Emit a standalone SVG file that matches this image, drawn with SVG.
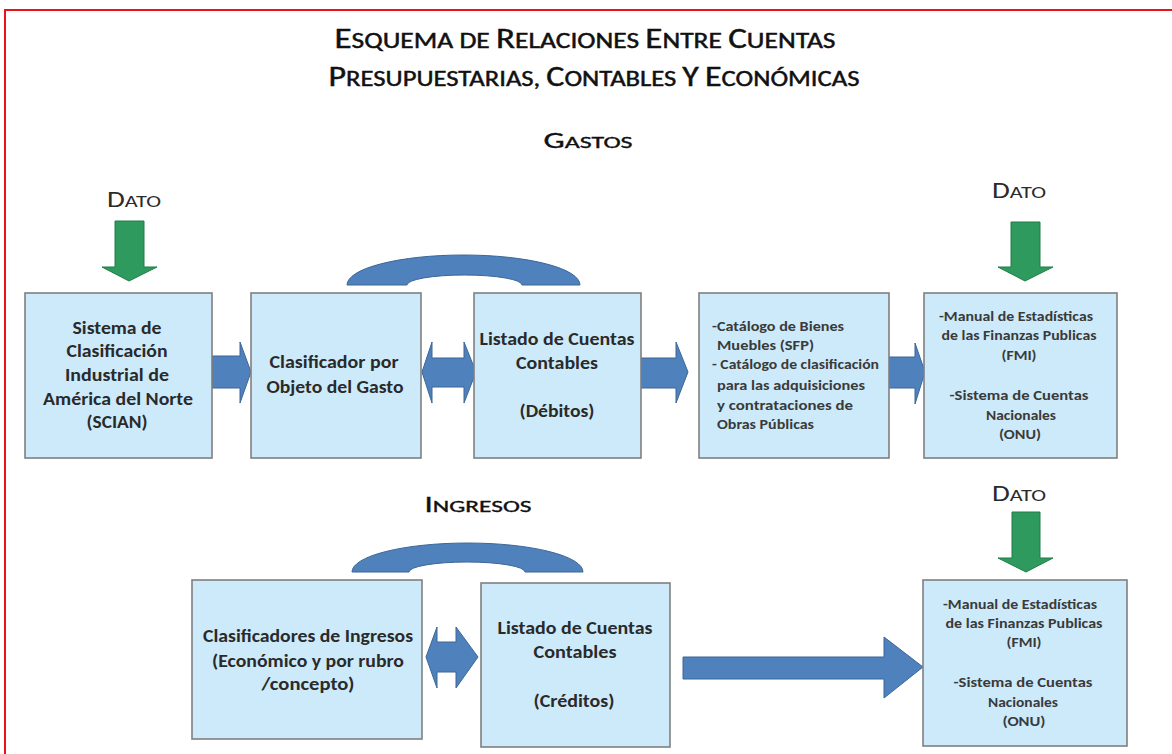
<svg xmlns="http://www.w3.org/2000/svg" width="1172" height="754" viewBox="0 0 1172 754">
<style>
  .frame{fill:none;stroke:#e8141b;stroke-width:2}
  .box{fill:#cdeafb;stroke:#7f7f7f;stroke-width:1.6}
  .blue{fill:#4f81bd;stroke:#3c6796;stroke-width:1}
  .green{fill:#2f9a5e;stroke:#237a49;stroke-width:1}
  text{font-family:Carlito,Lato,"Liberation Sans",sans-serif;fill:#1e1e1e}
  .ttl{font-size:22px;fill:#111;stroke:#111;stroke-width:0.45}
  .big{font-size:28px}
  .hd{font-size:17px;fill:#111;stroke:#111;stroke-width:0.35}
  .dt{font-size:17px;fill:#2b2b2b}
  .hdb{font-size:22px}
  .b1{font-size:17px;font-weight:bold;fill:#2a2a2a;text-anchor:middle}
  .b2{font-size:13px;font-weight:bold;fill:#3a3a3a}
  .mid{text-anchor:middle}
</style>
<rect class="frame" x="5" y="10" width="1200" height="800"/>

<g id="title">
  <text x="585" y="48" text-anchor="middle" textLength="501" lengthAdjust="spacingAndGlyphs" class="ttl"><tspan class="big">E</tspan>SQUEMA DE <tspan class="big">R</tspan>ELACIONES <tspan class="big">E</tspan>NTRE <tspan class="big">C</tspan>UENTAS</text>
  <text x="594" y="86" text-anchor="middle" textLength="531" lengthAdjust="spacingAndGlyphs" class="ttl"><tspan class="big">P</tspan>RESUPUESTARIAS, <tspan class="big">C</tspan>ONTABLES <tspan class="big">Y</tspan> <tspan class="big">E</tspan>CONÓMICAS</text>
  <text x="588" y="148" text-anchor="middle" textLength="89" lengthAdjust="spacingAndGlyphs" class="hd"><tspan class="hdb">G</tspan>ASTOS</text>
  <text x="478" y="512" text-anchor="middle" textLength="107" lengthAdjust="spacingAndGlyphs" class="hd"><tspan class="hdb">I</tspan>NGRESOS</text>
</g>

<g id="dato1">
  <text x="134" y="207" text-anchor="middle" textLength="54" lengthAdjust="spacingAndGlyphs" class="dt"><tspan class="hdb">D</tspan>ATO</text>
</g>
<g id="dato2">
  <text x="1019" y="198" text-anchor="middle" textLength="54" lengthAdjust="spacingAndGlyphs" class="dt"><tspan class="hdb">D</tspan>ATO</text>
</g>
<g id="dato3">
  <text x="1019" y="501" text-anchor="middle" textLength="54" lengthAdjust="spacingAndGlyphs" class="dt"><tspan class="hdb">D</tspan>ATO</text>
</g>

<g id="connectors">
  <path class="green" d="M115,221 H144 V267 H157 L129,281 L102,267 H115 Z"/>
  <path class="green" d="M1011,222 H1040 V267 H1053 L1025,281 L998,267 H1011 Z"/>
  <path class="green" d="M1012,512 H1040 V558 H1053 L1026,572 L998,558 H1012 Z"/>
  <path class="blue" d="M212,356 H240 V342 L251,372 L240,403 V388 H212 Z"/>
  <path class="blue" d="M422,372 L432,342 V358 H464 V342 L476,372 L464,403 V387 H432 V403 Z"/>
  <path class="blue" d="M641,358 H676 V342 L688,372 L676,403 V388 H641 Z"/>
  <path class="blue" d="M889,357 H915 V343 L925,372 L915,404 V388 H889 Z"/>
  <path class="blue" d="M347,285 A116.5,30 0 0 1 580,285 L522,285 A57.5,10 0 0 0 407,285 Z"/>
  <path class="blue" d="M426,657 L437,627 V642 H456 V627 L478,657 L456,688 V672 H437 V688 Z"/>
  <path class="blue" d="M352,572 A115.5,29 0 0 1 583,572 L525,572 A58,10 0 0 0 409,572 Z"/>
  <path class="blue" d="M683,657 H884 V637 L923,667 L884,698 V679 H683 Z"/>
</g>

<g id="n-scian">
  <rect class="box" x="25" y="293" width="187" height="165"/>
  <text class="b1" x="117" y="334" textLength="89" lengthAdjust="spacingAndGlyphs">Sistema de</text>
  <text class="b1" x="117" y="357" textLength="101" lengthAdjust="spacingAndGlyphs">Clasificación</text>
  <text class="b1" x="117" y="381" textLength="104" lengthAdjust="spacingAndGlyphs">Industrial de</text>
  <text class="b1" x="118" y="405" textLength="150" lengthAdjust="spacingAndGlyphs">América del Norte</text>
  <text class="b1" x="117" y="428" textLength="61" lengthAdjust="spacingAndGlyphs">(SCIAN)</text>
</g>

<g id="n-cog">
  <rect class="box" x="251" y="293" width="170" height="165"/>
  <text class="b1" x="334" y="368" textLength="129" lengthAdjust="spacingAndGlyphs">Clasificador por</text>
  <text class="b1" x="335" y="393" textLength="137" lengthAdjust="spacingAndGlyphs">Objeto del Gasto</text>
</g>

<g id="n-debitos">
  <rect class="box" x="474" y="293" width="167" height="165"/>
  <text class="b1" x="557" y="345" textLength="155" lengthAdjust="spacingAndGlyphs">Listado de Cuentas</text>
  <text class="b1" x="557" y="369" textLength="82" lengthAdjust="spacingAndGlyphs">Contables</text>
  <text class="b1" x="557" y="417" textLength="75" lengthAdjust="spacingAndGlyphs">(Débitos)</text>
</g>

<g id="n-catalogo">
  <rect class="box" x="699" y="293" width="190" height="165"/>
  <text class="b2" x="712" y="331" textLength="132" lengthAdjust="spacingAndGlyphs">-Catálogo de Bienes</text>
  <text class="b2" x="717" y="350" textLength="97" lengthAdjust="spacingAndGlyphs">Muebles (SFP)</text>
  <text class="b2" x="712" y="369" textLength="167" lengthAdjust="spacingAndGlyphs">- Catálogo de clasificación</text>
  <text class="b2" x="717" y="390" textLength="148" lengthAdjust="spacingAndGlyphs">para las adquisiciones</text>
  <text class="b2" x="717" y="410" textLength="136" lengthAdjust="spacingAndGlyphs">y contrataciones de</text>
  <text class="b2" x="717" y="429" textLength="97" lengthAdjust="spacingAndGlyphs">Obras Públicas</text>
</g>

<g id="n-manual1">
  <rect class="box" x="924" y="293" width="193" height="165"/>
  <text class="b2 mid" x="1016" y="321" textLength="154" lengthAdjust="spacingAndGlyphs">-Manual de Estadísticas</text>
  <text class="b2 mid" x="1019" y="340" textLength="155" lengthAdjust="spacingAndGlyphs">de las Finanzas Publicas</text>
  <text class="b2 mid" x="1019" y="360" textLength="35" lengthAdjust="spacingAndGlyphs">(FMI)</text>
  <text class="b2 mid" x="1019" y="400" textLength="139" lengthAdjust="spacingAndGlyphs">-Sistema de Cuentas</text>
  <text class="b2 mid" x="1021" y="420" textLength="70" lengthAdjust="spacingAndGlyphs">Nacionales</text>
  <text class="b2 mid" x="1020" y="439" textLength="42" lengthAdjust="spacingAndGlyphs">(ONU)</text>
</g>

<g id="n-ingresos">
  <rect class="box" x="192" y="580" width="230" height="159"/>
  <text class="b1" x="308" y="642" textLength="210" lengthAdjust="spacingAndGlyphs">Clasificadores de Ingresos</text>
  <text class="b1" x="308" y="667" textLength="192" lengthAdjust="spacingAndGlyphs">(Económico y por rubro</text>
  <text class="b1" x="308" y="690" textLength="93" lengthAdjust="spacingAndGlyphs">/concepto)</text>
</g>

<g id="n-creditos">
  <rect class="box" x="481" y="583" width="189" height="164"/>
  <text class="b1" x="575" y="634" textLength="155" lengthAdjust="spacingAndGlyphs">Listado de Cuentas</text>
  <text class="b1" x="575" y="658" textLength="83" lengthAdjust="spacingAndGlyphs">Contables</text>
  <text class="b1" x="574" y="707" textLength="81" lengthAdjust="spacingAndGlyphs">(Créditos)</text>
</g>

<g id="n-manual2">
  <rect class="box" x="923" y="580" width="204" height="166"/>
  <text class="b2 mid" x="1020" y="609" textLength="154" lengthAdjust="spacingAndGlyphs">-Manual de Estadísticas</text>
  <text class="b2 mid" x="1024" y="628" textLength="157" lengthAdjust="spacingAndGlyphs">de las Finanzas Publicas</text>
  <text class="b2 mid" x="1024" y="647" textLength="35" lengthAdjust="spacingAndGlyphs">(FMI)</text>
  <text class="b2 mid" x="1023" y="687" textLength="139" lengthAdjust="spacingAndGlyphs">-Sistema de Cuentas</text>
  <text class="b2 mid" x="1023" y="707" textLength="70" lengthAdjust="spacingAndGlyphs">Nacionales</text>
  <text class="b2 mid" x="1024" y="726" textLength="43" lengthAdjust="spacingAndGlyphs">(ONU)</text>
</g>
</svg>
